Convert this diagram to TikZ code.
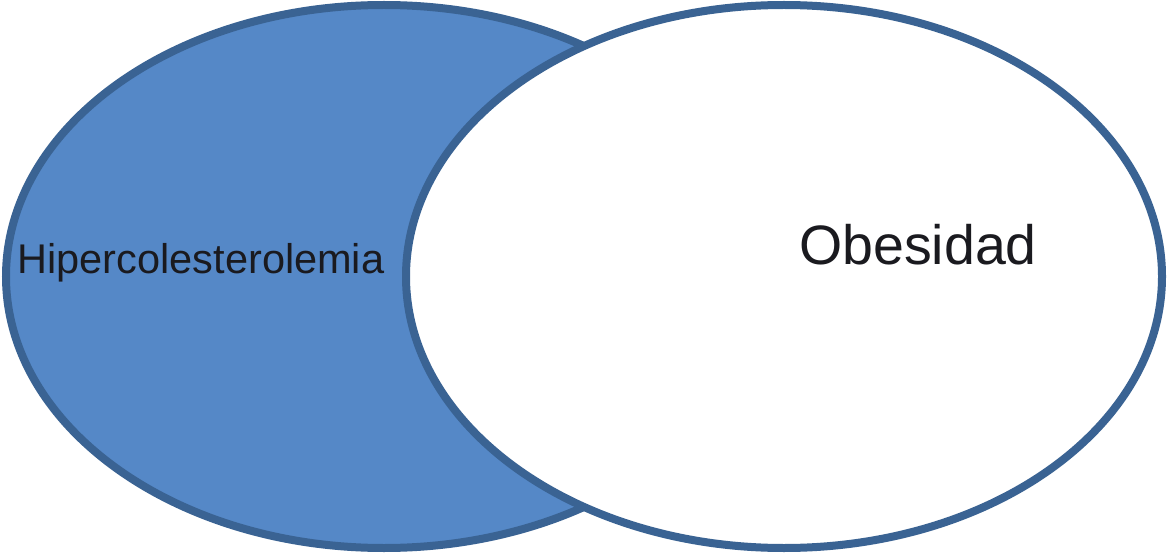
\documentclass[tikz,border=0pt]{standalone}
\usepackage{fontspec}
\setmainfont{Liberation Sans}
\usetikzlibrary{shapes.geometric}
\definecolor{vennfill}{HTML}{5588C7}
\definecolor{vennline}{HTML}{3A6393}
\definecolor{textdark}{HTML}{1A1A1F}
\tikzset{
  vennset/.style={ellipse, draw=vennline, line width=8pt, inner sep=0pt,
    minimum width=756pt, minimum height=543pt},
  venntext/.style={anchor=base, inner sep=0pt, text=textdark}
}
\begin{document}
\begin{tikzpicture}[x=1pt,y=-1pt]
\useasboundingbox (0,0) rectangle (1167,556);
\node[vennset, fill=vennfill] (hiper) at (384,276.5) {};
\node[vennset, fill=white] (obes) at (784,276.5) {};
\node[venntext, font=\fontsize{41.5}{48}\selectfont] (thiper) at (201,273) {Hipercolesterolemia};
\node[venntext, font=\fontsize{55.5}{64}\selectfont] (tobes) at (918,264) {Obesidad};
\end{tikzpicture}
\end{document}
